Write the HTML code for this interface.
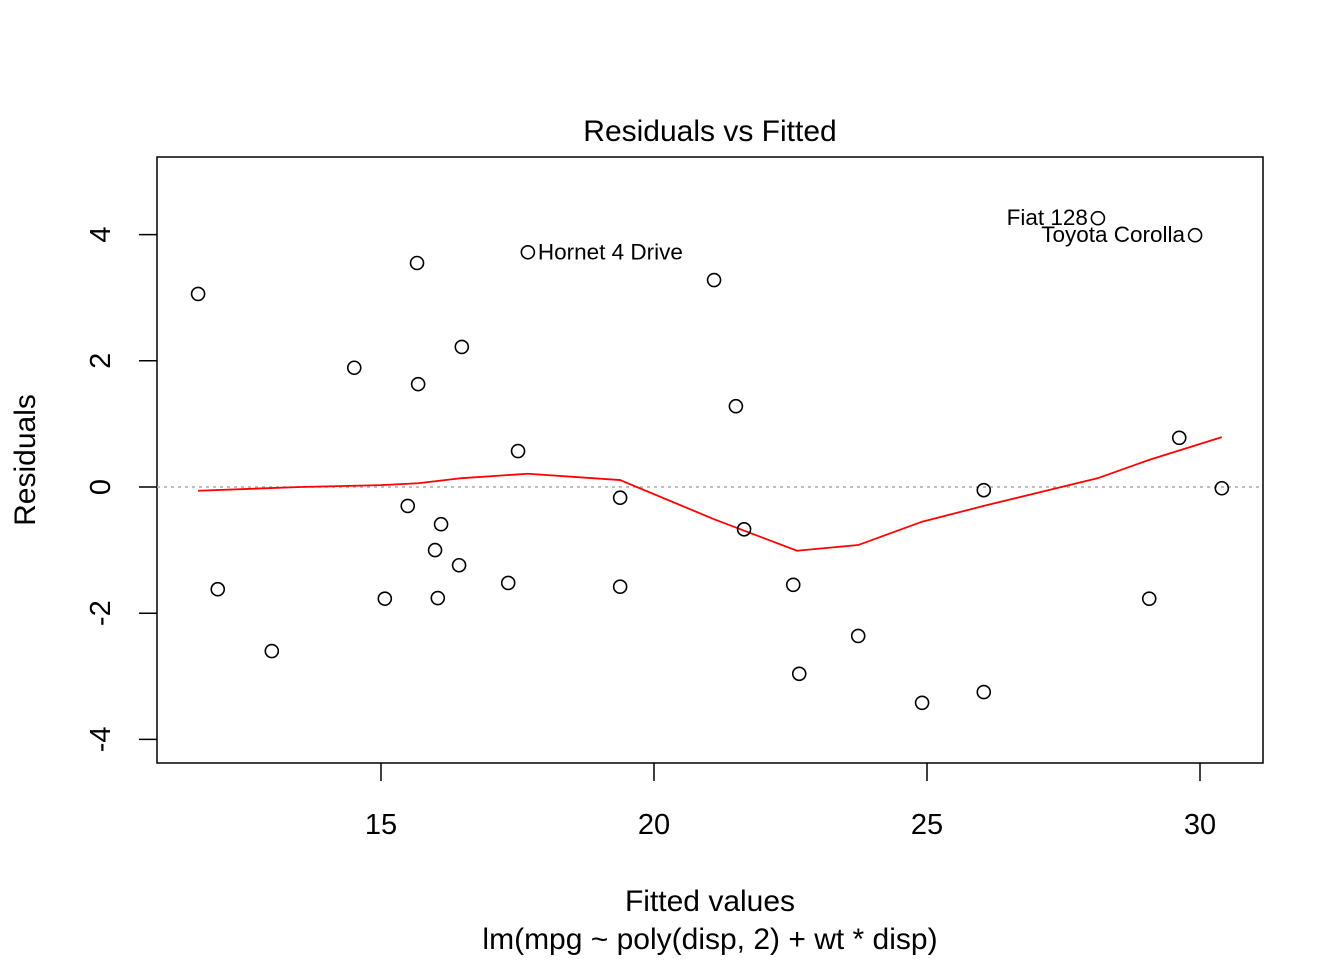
<!DOCTYPE html>
<html><head><meta charset="utf-8"><style>
html,body{margin:0;padding:0;background:#fff}
svg{display:block;font-family:"Liberation Sans",Arial,sans-serif}
</style></head><body>
<svg id="chart" width="1344" height="960" viewBox="0 0 1344 960" xmlns="http://www.w3.org/2000/svg">
<text x="710" y="141" font-size="30" text-anchor="middle">Residuals vs Fitted</text>
<rect x="157" y="157" width="1106" height="606" fill="none" stroke="#000" stroke-width="1.5"/>
<g id="xaxis"></g>
<g id="yaxis"></g>
<text x="710" y="911" font-size="30" text-anchor="middle">Fitted values</text>
<text x="710" y="949" font-size="30" text-anchor="middle">lm(mpg ~ poly(disp, 2) + wt * disp)</text>
<text transform="translate(35,460) rotate(-90)" font-size="30" text-anchor="middle">Residuals</text>
<line id="zeroline" stroke="#aaa" stroke-width="1.5" stroke-dasharray="3,4"/>
<polyline id="smooth" fill="none" stroke="#ff0000" stroke-width="1.8"/>
<g id="points"></g>
<g id="labels"></g>
</svg>
<script>
const fitted = [11.65,12.01,13.00,14.51,15.07,15.49,15.66,15.68,15.99,16.04,16.10,16.43,16.48,17.33,17.51,17.69,19.38,19.38,21.10,21.50,21.65,22.55,22.66,23.74,24.91,26.04,26.04,28.13,29.07,29.62,29.91,30.40];
const residuals = [3.06,-1.62,-2.60,1.89,-1.77,-0.30,3.55,1.63,-1.00,-1.76,-0.59,-1.24,2.22,-1.52,0.57,3.72,-0.17,-1.58,3.28,1.28,-0.67,-1.55,-2.96,-2.36,-3.42,-0.05,-3.25,4.26,-1.77,0.78,3.99,-0.02];
const smoothX = [11.65,13.52,15.00,15.68,16.48,17.69,19.38,21.10,22.62,23.74,24.91,26.04,28.13,29.07,30.40];
const smoothY = [-0.06,0.00,0.03,0.06,0.14,0.21,0.11,-0.51,-1.01,-0.92,-0.55,-0.30,0.14,0.43,0.79];
const xTicks = [15,20,25,30];
const yTicks = [-4,-2,0,2,4];
const labelNames = ["Hornet 4 Drive","Fiat 128","Toyota Corolla"];
const labelIdx = [15,27,30];
const labelSide = [1,-1,-1];

const NS="http://www.w3.org/2000/svg";
const sx=v=>381+(v-15)*54.6;
const sy=v=>487-v*63.1;
function mk(tag,attrs,parent){const e=document.createElementNS(NS,tag);for(const k in attrs)e.setAttribute(k,attrs[k]);parent.appendChild(e);return e;}
const xa=document.getElementById('xaxis'), ya=document.getElementById('yaxis');
xTicks.forEach(t=>{
  const l=mk('line',{x1:sx(t),x2:sx(t),y1:763,y2:781,stroke:'#000','stroke-width':1.5},xa);
  
  
  const tx=mk('text',{x:sx(t),y:834,'font-size':29,'text-anchor':'middle'},xa);tx.textContent=t;
  
  
});
yTicks.forEach(t=>{
  const l=mk('line',{x1:139,x2:157,y1:sy(t),y2:sy(t),stroke:'#000','stroke-width':1.5},ya);
  
  
  const tx=mk('text',{transform:`translate(110,${sy(t)}) rotate(-90)`,'font-size':29,'text-anchor':'middle'},ya);tx.textContent=t;
  
  
});
const z=document.getElementById('zeroline');
z.setAttribute('x1',157);z.setAttribute('x2',1263);z.setAttribute('y1',sy(0));z.setAttribute('y2',sy(0));
document.getElementById('smooth').setAttribute('points',smoothX.map((x,i)=>sx(x)+','+sy(smoothY[i])).join(' '));
const pg=document.getElementById('points');
fitted.forEach((f,i)=>{
  const c=mk('circle',{cx:sx(f),cy:sy(residuals[i]),r:6.5,fill:'none',stroke:'#000','stroke-width':1.6},pg);
  
  
});
const lg=document.getElementById('labels');
labelIdx.forEach((idx,k)=>{
  const x=sx(fitted[idx])+labelSide[k]*10, y=sy(residuals[idx])+7;
  const t=mk('text',{x:x,y:y,'font-size':22.5,'text-anchor':labelSide[k]>0?'start':'end'},lg);
  t.textContent=labelNames[k];
  
  
});
</script>
</body></html>
